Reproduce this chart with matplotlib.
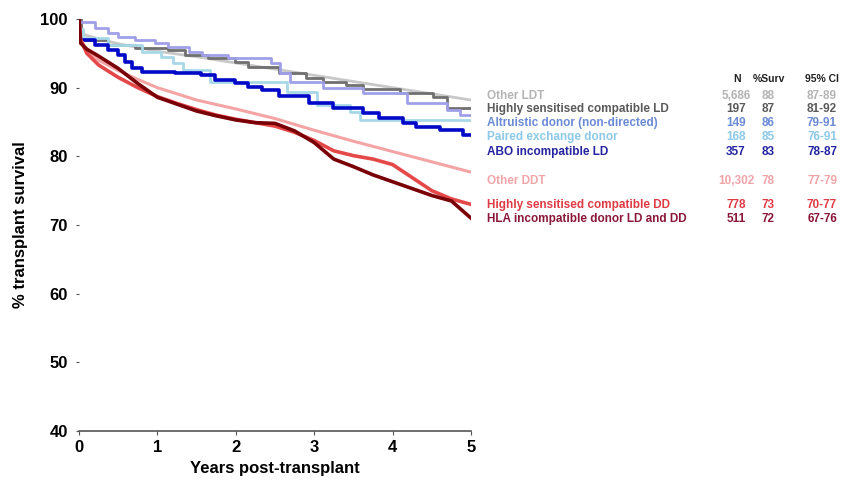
import matplotlib.pyplot as plt
import numpy as np

plt.rcParams['font.family'] = ['Liberation Sans', 'DejaVu Sans']

# 生存曲线数据 (年, %)
t_other_ldt = [0, 0.02, 0.1, 0.25, 0.5, 1, 1.5, 2, 2.5, 3, 3.5, 4, 4.5, 5]
v_other_ldt = [100, 98, 97.6, 97.1, 96.4, 95.3, 94.5, 93.6, 92.7, 91.8, 90.9, 90.0, 89.1, 88.2]

t_hs_ld = [0, 0.03, 0.37, 0.71, 1.14, 1.35, 1.65, 1.99, 2.16, 2.55, 2.9, 3.11, 3.41, 3.62, 4.09, 4.52, 4.69, 5.0]
v_hs_ld = [100, 96.9, 96.2, 95.8, 95.5, 94.8, 94.3, 93.7, 93.0, 92.1, 91.4, 90.8, 90.4, 89.8, 89.2, 88.6, 87.0, 87.0]

t_altruistic = [0, 0.2, 0.37, 0.5, 0.71, 0.97, 1.14, 1.4, 1.57, 1.9, 2.45, 2.56, 2.69, 3.11, 3.62, 4.18, 4.69, 4.86, 5.0]
v_altruistic = [99.6, 98.7, 98.0, 97.4, 96.9, 96.5, 95.9, 95.2, 94.8, 94.3, 93.6, 92.2, 90.8, 90.0, 89.2, 87.8, 86.7, 86.0, 86.0]

t_paired = [0, 0.05, 0.37, 0.8, 1.05, 1.2, 1.33, 1.67, 2.65, 3.03, 3.46, 3.59, 5.0]
v_paired = [98.5, 97.2, 96.2, 95.2, 94.5, 93.6, 92.6, 90.8, 89.3, 87.5, 86.5, 85.3, 85.3]

t_abo = [0, 0.2, 0.37, 0.5, 0.59, 0.67, 0.8, 1.22, 1.56, 1.73, 1.99, 2.16, 2.33, 2.55, 2.94, 3.24, 3.62, 3.83, 4.13, 4.3, 4.6, 4.9, 5.0]
v_abo = [96.9, 96.2, 95.5, 94.8, 93.7, 92.9, 92.3, 92.1, 91.8, 91.1, 90.7, 90.1, 89.7, 88.8, 87.8, 87.0, 86.3, 85.6, 84.9, 84.3, 83.8, 83.1, 83.1]

t_other_ddt = [0, 0.02, 0.1, 0.25, 0.5, 0.75, 1, 1.5, 2, 2.5, 3, 3.5, 4, 4.5, 5]
v_other_ddt = [100, 97, 95.5, 94, 92.5, 91.2, 90.0, 88.2, 86.9, 85.5, 83.8, 82.2, 80.7, 79.2, 77.7]

t_dd = [0, 0.02, 0.1, 0.25, 0.5, 0.75, 1, 1.25, 1.5, 1.75, 2, 2.25, 2.5, 2.75, 3, 3.25, 3.5, 3.75, 4, 4.25, 4.5, 4.75, 5]
v_hs_dd = [100, 97, 95, 93.3, 91.5, 90.0, 88.7, 87.7, 86.8, 86.0, 85.4, 84.9, 84.4, 83.5, 82.3, 80.8, 80.1, 79.6, 78.8, 76.9, 75.0, 73.8, 73.0]
v_hla = [100, 96.5, 95.6, 94.6, 92.8, 90.6, 88.6, 87.6, 86.6, 85.9, 85.3, 84.9, 84.8, 83.7, 82.0, 79.6, 78.5, 77.3, 76.3, 75.3, 74.3, 73.5, 71.0]

# 右侧表格
labels = ['Other LDT', 'Highly sensitised compatible LD', 'Altruistic donor (non-directed)',
          'Paired exchange donor', 'ABO incompatible LD', 'Other DDT',
          'Highly sensitised compatible DD', 'HLA incompatible donor LD and DD']
n_vals = ['5,686', '197', '149', '168', '357', '10,302', '778', '511']
surv_vals = ['88', '87', '86', '85', '83', '78', '73', '72']
ci_vals = ['87-89', '81-92', '79-91', '76-91', '78-87', '77-79', '70-77', '67-76']
text_colors = ['#b4b4b4', '#5a5a5a', '#6a8ad6', '#8cc8e8', '#2424a0', '#f0a4a8', '#e03a44', '#8a1838']
row_y = [96, 109, 123, 137, 152, 181, 205, 219]

fig = plt.figure(figsize=(8.63, 4.94), dpi=100)
ax = fig.add_axes([79 / 863, 1 - 431 / 494, 392 / 863, 412 / 494])

ax.plot(t_other_ldt, v_other_ldt, color='#c8c8c8', lw=2)
ax.plot(t_hs_ld, v_hs_ld, color='#707070', lw=2, drawstyle='steps-post')
ax.plot(t_altruistic, v_altruistic, color='#a0a0e8', lw=2, drawstyle='steps-post')
ax.plot(t_paired, v_paired, color='#a8d8e8', lw=2, drawstyle='steps-post')
ax.plot(t_abo, v_abo, color='#0008c8', lw=2.6, drawstyle='steps-post')
ax.plot(t_other_ddt, v_other_ddt, color='#f4a4a4', lw=2.2)
ax.plot(t_dd, v_hs_dd, color='#e44848', lw=2.6)
ax.plot(t_dd, v_hla, color='#7a0008', lw=2.6)

ax.set_xlim(0, 5)
ax.set_ylim(40, 100)
ax.set_xticks([0, 1, 2, 3, 4, 5])
ax.set_yticks([40, 50, 60, 70, 80, 90, 100])
for lab in ax.get_xticklabels() + ax.get_yticklabels():
    lab.set_fontweight('bold')
ax.tick_params(axis='both', labelsize=12, length=3, width=0.8, color='#555555')
ax.tick_params(axis='y', length=2, pad=6)
ax.spines['top'].set_visible(False)
ax.spines['right'].set_visible(False)
ax.spines['left'].set_visible(False)
ax.spines['bottom'].set_color('#555555')
ax.spines['bottom'].set_linewidth(1.2)
ax.set_xlabel('Years post-transplant', fontsize=12, fontweight='bold')
ax.set_ylabel('% transplant survival', fontsize=12, fontweight='bold', labelpad=9)

# 表头
for x, h in zip([737, 769, 822], ['N', '%Surv', '95% CI']):
    fig.text(x / 863, 1 - 79 / 494, h, fontsize=7.5, fontweight='bold', ha='center', va='center', color='#222222')

for i in range(len(labels)):
    y = 1 - row_y[i] / 494
    c = text_colors[i]
    fig.text(487 / 863, y, labels[i], fontsize=8.5, fontweight='bold', color=c, va='center')
    fig.text(736 / 863, y, n_vals[i], fontsize=8.5, fontweight='bold', color=c, ha='center', va='center')
    fig.text(768 / 863, y, surv_vals[i], fontsize=8.5, fontweight='bold', color=c, ha='center', va='center')
    fig.text(822 / 863, y, ci_vals[i], fontsize=8.5, fontweight='bold', color=c, ha='center', va='center')

fig.savefig('out.png', dpi=100)
